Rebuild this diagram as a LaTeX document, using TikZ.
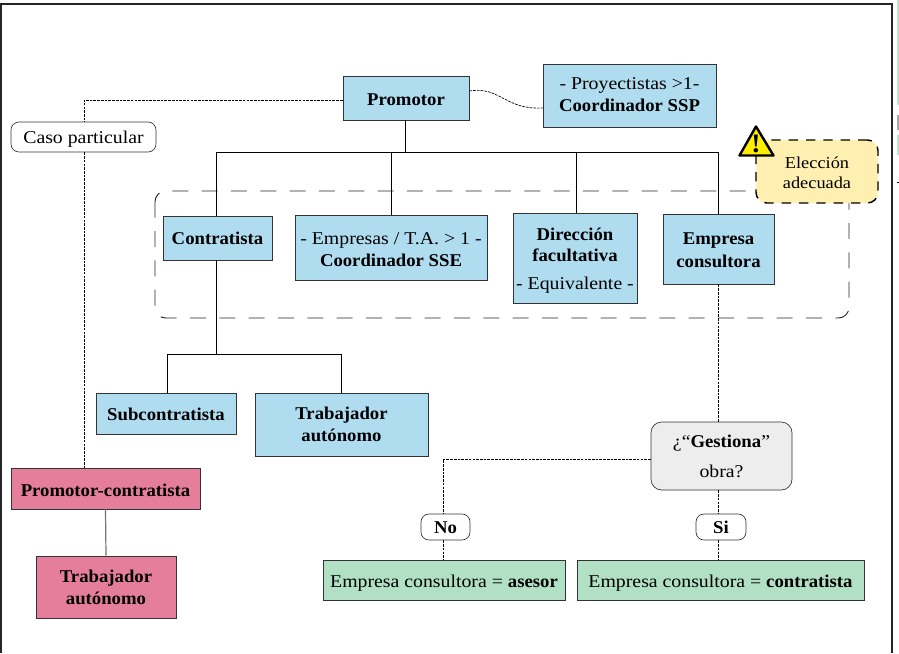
\documentclass[tikz,border=0pt]{standalone}
\usepackage{fontspec}
\setmainfont[FakeStretch=1.1,BoldFeatures={FakeStretch=1.04}]{Liberation Serif}
\usetikzlibrary{shapes.geometric}
\definecolor{cblue}{HTML}{B0DCF0}
\definecolor{cpink}{HTML}{E57E9B}
\definecolor{cgreen}{HTML}{B1E0C4}
\definecolor{cgrey}{HTML}{EDEDED}
\definecolor{cyel}{HTML}{FFEFB0}
\definecolor{cline}{HTML}{333333}
\definecolor{cstrip}{HTML}{BFE5D2}
\newcommand{\tl}[1]{\rule{0pt}{#1pt}}
\tikzset{
  x=0.75pt,y=-0.75pt,
  base/.style={draw=cline,line width=0.7pt,align=center,inner sep=0pt,text=black,
    font=\fontsize{13.5pt}{16pt}\selectfont},
  bluebox/.style={base,fill=cblue},
  pinkbox/.style={base,fill=cpink},
  greenbox/.style={base,fill=cgreen},
  tagbox/.style={base,fill=white,rounded corners=6pt,line width=0.5pt},
  askbox/.style={base,fill=cgrey,rounded corners=8pt,line width=0.5pt},
  solidlink/.style={draw=black,line width=0.6pt},
  dotlink/.style={draw=black,line width=0.5pt,dash pattern=on 2pt off 0.8pt},
  frameline/.style={draw=black!85,line width=1.2pt},
  wh/.style n args={2}{minimum width=#1*0.75pt,minimum height=#2*0.75pt}
}
\begin{document}
\begin{tikzpicture}
\useasboundingbox (0,0) rectangle (899,653);
% page frame and clipped neighbour strip
\draw[frameline] (1,653) -- (1,4) -- (892,4) -- (892,653);
\fill[cstrip] (897,0) rectangle (899,105);
\fill[black!35] (897,115) rectangle (899,130);
\fill[cstrip] (897,135) rectangle (899,155);
\draw[black,line width=0.7pt] (897,182) -- (899,182);
% dashed group
\draw[draw=black!85,line width=0.7pt,dash pattern=on 12pt off 10pt,rounded corners=8pt]
  (155,191) rectangle (849,318);
% nodes
\node[bluebox,wh={126}{44}] (prom) at (406,98) {\tl{12}\textbf{Promotor}};
\node[bluebox,wh={173}{63}] (proy) at (629.5,95.5) {- Proyectistas >1-\\\textbf{Coordinador SSP}\rule[-1.5pt]{0pt}{1pt}};
\node[tagbox,wh={145}{30}] (caso) at (83.5,137) {\tl{12.2}Caso particular};
\node[bluebox,wh={109}{44}] (cont) at (217.5,238) {\textbf{Contratista}};
\node[bluebox,wh={192}{65}] (empr) at (391,247.5) {\tl{12}- Empresas / T.A. > 1 -\\\textbf{Coordinador SSE}};
\node[bluebox,wh={124}{90}] (dire) at (575,258) {\tl{13.5}\textbf{Dirección}\\\textbf{facultativa}\\[5pt]- Equivalente -};
\node[bluebox,wh={111}{70}] (cons) at (718.5,249) {\tl{10.5}\textbf{Empresa}\\[0.75pt]\textbf{consultora}};
\node[bluebox,wh={140}{41}] (subc) at (166,413.5) {\tl{10.5}\textbf{Subcontratista}};
\node[bluebox,wh={173}{63}] (trab) at (341.5,424.5) {\textbf{Trabajador}\\[0.5pt]\textbf{autónomo}};
\node[askbox,wh={141}{68}] (gest) at (721.5,456) {\tl{10.5}¿“\textbf{Gestiona}”\\[6.5pt]obra?};
\node[tagbox,wh={49}{26}] (no) at (445.5,527) {\tl{10}\textbf{No}};
\node[tagbox,wh={50}{26}] (si) at (721,527) {\tl{10}\textbf{Si}};
\node[greenbox,wh={242}{40}] (ases) at (444,580) {\tl{13.7}Empresa consultora = \textbf{asesor}};
\node[greenbox,wh={287}{40}] (contr) at (720.5,580) {\tl{13.7}Empresa consultora = \textbf{contratista}};
\node[pinkbox,wh={189}{41}] (pc) at (105.5,488.5) {\tl{12}\textbf{Promotor-contratista}};
\node[pinkbox,wh={140}{62}] (tp) at (106,587) {\textbf{Trabajador}\\[0.5pt]\textbf{autónomo}};
\node[base,draw=black,line width=1.1pt,dash pattern=on 7pt off 6pt,fill=cyel,rounded corners=8pt,wh={122}{63},
  font=\fontsize{12.5pt}{15pt}\selectfont] (elec) at (817,171.5) {\tl{11}Elección\\adecuada};
% warning sign
\draw[fill=yellow!95!orange,draw=black,line width=1.8pt,line join=round]
  (756,126.5) -- (773.5,155.5) -- (739.5,155.5) -- cycle;
\node[inner sep=0pt,font=\fontsize{20pt}{20pt}\selectfont\bfseries] (warn) at (756,143.5) {!};
% bus coordinates
\coordinate (busT) at (405,152);
\coordinate (busA) at (216,152);
\coordinate (busB) at (391,152);
\coordinate (busC) at (576,152);
\coordinate (busD) at (718,152);
\coordinate (bus2) at (216,354);
\coordinate (bus2a) at (167,354);
\coordinate (bus2b) at (341,354);
\coordinate (turnP) at (84,100);
\coordinate (turnN) at (443,459);
% solid connectors
\draw[solidlink] (prom.south -| busT) -- (busT);
\draw[solidlink] (busA) -- (busD);
\draw[solidlink] (busA) -- (cont.north -| busA);
\draw[solidlink] (busB) -- (empr.north -| busB);
\draw[solidlink] (busC) -- (dire.north -| busC);
\draw[solidlink] (busD) -- (cons.north -| busD);
\draw[solidlink] (cont.south -| bus2) -- (bus2);
\draw[solidlink] (bus2a) -- (bus2b);
\draw[solidlink] (bus2a) -- (subc.north -| bus2a);
\draw[solidlink] (bus2b) -- (trab.north -| bus2b);
\draw[draw=black!55,line width=0.9pt] (pc.south) -- (tp.north);
% dotted connectors
\draw[dotlink] (prom.west |- turnP) -- (turnP) -- (caso.north -| turnP);
\draw[dotlink] (caso.south -| turnP) -- (pc.north -| turnP);
\draw[dotlink] (cons.south -| busD) -- (gest.north -| busD);
\draw[dotlink] (gest.south -| busD) -- (si.north -| busD);
\draw[dotlink] (si.south -| busD) -- (contr.north -| busD);
\draw[dotlink] (gest.west |- turnN) -- (turnN) -- (no.north -| turnN);
\draw[dotlink] (no.south -| turnN) -- (ases.north -| turnN);
\draw[dotlink] (prom.east |- 0,91) .. controls (500,86) and (505,110) .. (proy.west |- 0,108);
\end{tikzpicture}
\end{document}
